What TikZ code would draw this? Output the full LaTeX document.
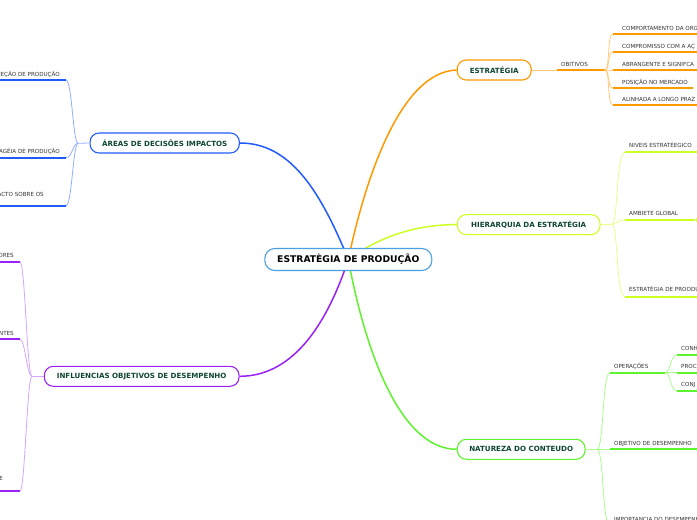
\documentclass[tikz,border=0pt]{standalone}
\usepackage{fontspec}
\setmainfont{DejaVu Sans}
\usetikzlibrary{backgrounds}
\definecolor{cenC}{HTML}{4A9FE0}
\definecolor{orgC}{HTML}{FF9900}
\definecolor{orgL}{HTML}{FFCB7A}
\definecolor{yelC}{HTML}{CCFF22}
\definecolor{yelL}{HTML}{E6FF8C}
\definecolor{grnC}{HTML}{5FF22E}
\definecolor{grnL}{HTML}{A8FF8C}
\definecolor{bluC}{HTML}{1F5BFF}
\definecolor{bluL}{HTML}{92AEFF}
\definecolor{purC}{HTML}{9A22F5}
\definecolor{purL}{HTML}{D2A6FF}
\definecolor{nodetext}{HTML}{0F4535}
\definecolor{labelgray}{HTML}{333333}
\begin{document}
\begin{tikzpicture}[x=1pt,y=-1pt,
  central/.style={draw=cenC, fill=white, rounded corners=10pt, line width=1.1pt,
    font=\fontsize{9.2}{10}\selectfont\bfseries, text=black, inner sep=0pt,
    minimum width=167pt, minimum height=22pt},
  topic/.style={fill=white, rounded corners=9pt, line width=1.1pt, text=nodetext,
    font=\fontsize{7.1}{8}\selectfont\bfseries, inner sep=0pt, minimum height=20pt},
  lbl/.style={font=\fontsize{5.6}{6.5}\selectfont, text=labelgray, inner sep=0pt},
  mainline/.style={line width=1.5pt},
  brline/.style={line width=0.8pt},
  ulline/.style={line width=1.9pt}
]
\useasboundingbox (0,0) rectangle (697,520);

% ---- topic nodes
\node[central] (c) at (348.3,259.5) {ESTRATÈGIA DE PRODUÇÃO};
\node[topic, draw=orgC, minimum width=74pt] (estr) at (494.2,70) {ESTRATÉGIA};
\node[topic, draw=yelC, minimum width=142.7pt] (hier) at (528.7,224.6) {HIERARQUIA DA ESTRATÉGIA};
\node[topic, draw=grnC, minimum width=127.7pt] (nat) at (521.2,449.3) {NATUREZA DO CONTEUDO};
\node[topic, draw=bluC, minimum width=149.3pt] (areas) at (164.7,143) {ÁREAS DE DECISÕES IMPACTOS};
\node[topic, draw=purC, minimum width=194.7pt] (infl) at (141.7,376.3) {INFLUENCIAS OBJETIVOS DE DESEMPENHO};

% ---- ESTRATEGIA branch
\coordinate (ob1) at (557,70);
\coordinate (ob2) at (605,70);
\node[lbl, anchor=base west] (obl) at (561,66) {OBITIVOS};
\foreach \y/\t/\n/\e in {34/COMPORTAMENTO DA ORG/oa/702, 52/COMPROMISSO COM A AÇ/ob/702,
    70/ABRANGENTE E SIGNIFCA/oc/702, 88/POSIÇÃO NO MERCADO/od/693, 105/ALINHADA A LONGO PRAZ/oe/702}{
  \coordinate (\n-s) at (613,\y);
  \coordinate (\n-e) at (\e,\y);
  \node[lbl, anchor=base west] (\n) at (622,{\y-4}) {\t};
}

% ---- HIERARQUIA branch
\coordinate (hj) at (612,224.3);
\foreach \y/\t/\n in {152.3/NIVEIS ESTRATÉEGICO/ha, 220/AMBIETE GLOBAL/hb, 296.7/ESTRATÉGIA DE PROODU/hc}{
  \coordinate (\n-s) at (625,\y);
  \coordinate (\n-e) at (702,\y);
  \node[lbl, anchor=base west] (\n) at (629,{\y-5}) {\t};
}
\coordinate (hbj) at (694,220);
\coordinate (hbu) at (702,213);
\coordinate (hbd) at (702,227);

% ---- NATUREZA branch
\coordinate (nj) at (597,449.3);
\coordinate (na-s) at (610,372.7);
\coordinate (na-e) at (665,372.7);
\node[lbl, anchor=base west] (na) at (614,368.5) {OPERAÇÕES};
\coordinate (nb-s) at (610,449.3);
\coordinate (nb-e) at (702,449.3);
\node[lbl, anchor=base west] (nb) at (614,445) {OBJETIVO DE DESEMPENHO};
\coordinate (nc-s) at (610,526);
\coordinate (nc-e) at (702,526);
\node[lbl, anchor=base west] (nc) at (614,521.6) {IMPORTANCIA DO DESEMPENHO};
\foreach \y/\t/\n in {355/CONH/pa, 372.7/PROC/pb, 390.7/CONJ/pc}{
  \coordinate (\n-s) at (677,\y);
  \coordinate (\n-e) at (702,\y);
  \node[lbl, anchor=base west] (\n) at (681,{\y-4.5}) {\t};
}

% ---- AREAS branch
\coordinate (aj) at (78,143.3);
\foreach \y/\n in {80/aa, 157.7/ab, 205.7/ac}{
  \coordinate (\n-s) at (66,\y);
  \coordinate (\n-e) at (-5,\y);
}
\node[lbl, anchor=base east] (aa) at (60,76) {IEÇÃO DE PRODUÇÃO};
\node[lbl, anchor=base east] (ab) at (60,153.7) {AGÉIA DE PRODUÇÃO};
\node[lbl, anchor=base east] (ac) at (44,196) {ACTO SOBRE OS};

% ---- INFLUENCIAS branch
\coordinate (ij) at (32,376.3);
\foreach \y/\n in {261.7/ia, 339.3/ib, 490.7/ic}{
  \coordinate (\n-s) at (20,\y);
  \coordinate (\n-e) at (-5,\y);
}
\node[lbl, anchor=base east] (ia) at (14,257.5) {ORES};
\node[lbl, anchor=base east] (ib) at (14,335) {NTES};
\node[lbl, anchor=base east] (ic) at (3,480.5) {E};

% ---- connectors (behind the nodes)
\begin{scope}[on background layer]
  % main
  \draw[mainline, bluC] (c.center) .. controls (320,190) and (290,143) .. (areas.east);
  \draw[mainline, orgC] (c.center) .. controls (365,180) and (400,72) .. (estr.west);
  \draw[mainline, yelC] (c.center) .. controls (375,240) and (410,224.6) .. (hier.west);
  \draw[mainline, grnC] (c.center) .. controls (365,350) and (400,449.3) .. (nat.west);
  \draw[mainline, purC] (c.center) .. controls (325,330) and (290,376.3) .. (infl.east);
  % estrategia
  \draw[brline, orgL] (estr.east) -- (ob1);
  \draw[ulline, orgC] (ob1) -- (ob2);
  \foreach \n/\y in {oa/34, ob/52, oc/70, od/88, oe/105}{
    \draw[brline, orgL] (ob2) .. controls (610,70) and (607,\y) .. (\n-s);
    \draw[ulline, orgC] (\n-s) -- (\n-e);
  }
  % hierarquia
  \draw[brline, yelL] (hier.east) -- (hj);
  \foreach \n/\y in {ha/152.3, hb/220, hc/296.7}{
    \draw[brline, yelL] (hj) .. controls (618,224.3) and (616,\y) .. (\n-s);
    \draw[ulline, yelC] (\n-s) -- (\n-e);
  }
  \draw[brline, yelL] (hbj) .. controls (698,220) and (697,213) .. (hbu);
  \draw[brline, yelL] (hbj) .. controls (698,220) and (697,227) .. (hbd);
  % natureza
  \draw[brline, grnL] (nat.east) -- (nj);
  \foreach \n/\y in {na/372.7, nb/449.3, nc/526}{
    \draw[brline, grnL] (nj) .. controls (604,449.3) and (602,\y) .. (\n-s);
    \draw[ulline, grnC] (\n-s) -- (\n-e);
  }
  \foreach \n/\y in {pa/355, pb/372.7, pc/390.7}{
    \draw[brline, grnL] (na-e) .. controls (671,372.7) and (670,\y) .. (\n-s);
    \draw[ulline, grnC] (\n-s) -- (\n-e);
  }
  % areas
  \draw[brline, bluL] (areas.west) -- (aj);
  \foreach \n/\y in {aa/80, ab/157.7, ac/205.7}{
    \draw[brline, bluL] (aj) .. controls (73,143.3) and (72,\y) .. (\n-s);
    \draw[ulline, bluC] (\n-s) -- (\n-e);
  }
  % influencias
  \draw[brline, purL] (infl.west) -- (ij);
  \foreach \n/\y in {ia/261.7, ib/339.3, ic/490.7}{
    \draw[brline, purL] (ij) .. controls (27,376.3) and (25,\y) .. (\n-s);
    \draw[ulline, purC] (\n-s) -- (\n-e);
  }
\end{scope}
\end{tikzpicture}
\end{document}
